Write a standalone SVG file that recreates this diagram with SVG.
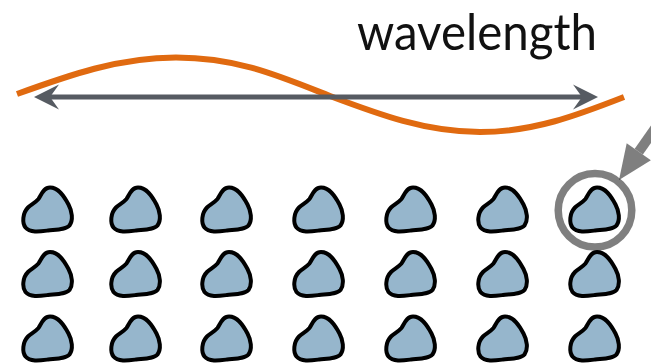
<svg xmlns="http://www.w3.org/2000/svg" xmlns:xlink="http://www.w3.org/1999/xlink" width="651" height="364" viewBox="0 0 651 364">
  <style>
    .label { font-family: Lato, "Noto Sans", "DejaVu Sans", sans-serif; font-size: 50px; fill: #111111; }
    .wave { fill: none; stroke: #e06a10; stroke-width: 6; stroke-linecap: butt; }
    .span { fill: none; stroke: #565b62; stroke-width: 5; }
    .pebble { fill: #96b6cc; stroke: #000000; stroke-width: 4; stroke-linejoin: round; }
    .ring { fill: none; stroke: #000000; stroke-opacity: 0.5; stroke-width: 7.5; }
    .pointer { stroke: #000000; stroke-opacity: 0.5; stroke-width: 10; fill: none; }
    .pointer-head { fill: #000000; fill-opacity: 0.5; }
  </style>
  <defs>
    <!-- notched arrowhead; origin sits at the notch -->
    <marker id="head" markerUnits="userSpaceOnUse" markerWidth="30" markerHeight="30" refX="0" refY="0" orient="auto-start-reverse" overflow="visible">
      <path d="M16,0 L-9,-12.5 L0,0 L-9,12.5 Z" fill="#565b62"/>
    </marker>
    <!-- one pebble outline, drawn in a 53x48 box -->
    <path id="pebble" class="pebble" d="M29,2.5 C37.5,2.5 43,11 47.5,19.5 C51,26 52.5,35 48.5,40.5 C45,44.5 36,44.5 27,45.5 C19,46.5 9,48 4.5,42.5 C1,38 1.5,28 7,22.5 C10,19.5 14,18 17.5,14 C20.5,9.5 22.5,2.5 29,2.5 Z"/>
  </defs>

  <rect width="651" height="364" fill="#ffffff"/>

  <g id="label-wavelength">
    <text class="label" x="357" y="50" textLength="240" lengthAdjust="spacingAndGlyphs">wavelength</text>
  </g>

  <g id="wave">
    <path class="wave" d="M17,94 C68.8,75.3 118.4,57.5 176,57.5 C238,57.5 279.8,76.3 330,96 C378.9,114.4 425.7,132 480,132 C533.6,132 578,115 624,97"/>
  </g>

  <g id="connectors">
    <line class="span" x1="50" y1="97" x2="582" y2="97" marker-start="url(#head)" marker-end="url(#head)"/>
    <line class="pointer" x1="638.8" y1="151.7" x2="662" y2="118.5"/>
    <polygon class="pointer-head" points="619,180 626.7,143.3 650.9,160.2"/>
  </g>

  <g id="highlight">
    <circle class="ring" cx="595" cy="210.3" r="36.8"/>
  </g>

  <g id="pebbles">
    <g id="pebble-r1c1" transform="translate(21,185)"><use href="#pebble"/></g>
    <g id="pebble-r1c2" transform="translate(109,185)"><use href="#pebble"/></g>
    <g id="pebble-r1c3" transform="translate(200,185)"><use href="#pebble"/></g>
    <g id="pebble-r1c4" transform="translate(292,185)"><use href="#pebble"/></g>
    <g id="pebble-r1c5" transform="translate(384,185)"><use href="#pebble"/></g>
    <g id="pebble-r1c6" transform="translate(476,185)"><use href="#pebble"/></g>
    <g id="pebble-r1c7" transform="translate(568,185)"><use href="#pebble"/></g>

    <g id="pebble-r2c1" transform="translate(21,249.5)"><use href="#pebble"/></g>
    <g id="pebble-r2c2" transform="translate(109,249.5)"><use href="#pebble"/></g>
    <g id="pebble-r2c3" transform="translate(200,249.5)"><use href="#pebble"/></g>
    <g id="pebble-r2c4" transform="translate(292,249.5)"><use href="#pebble"/></g>
    <g id="pebble-r2c5" transform="translate(384,249.5)"><use href="#pebble"/></g>
    <g id="pebble-r2c6" transform="translate(476,249.5)"><use href="#pebble"/></g>
    <g id="pebble-r2c7" transform="translate(568,249.5)"><use href="#pebble"/></g>

    <g id="pebble-r3c1" transform="translate(21,314)"><use href="#pebble"/></g>
    <g id="pebble-r3c2" transform="translate(109,314)"><use href="#pebble"/></g>
    <g id="pebble-r3c3" transform="translate(200,314)"><use href="#pebble"/></g>
    <g id="pebble-r3c4" transform="translate(292,314)"><use href="#pebble"/></g>
    <g id="pebble-r3c5" transform="translate(384,314)"><use href="#pebble"/></g>
    <g id="pebble-r3c6" transform="translate(476,314)"><use href="#pebble"/></g>
    <g id="pebble-r3c7" transform="translate(568,314)"><use href="#pebble"/></g>
  </g>
</svg>
